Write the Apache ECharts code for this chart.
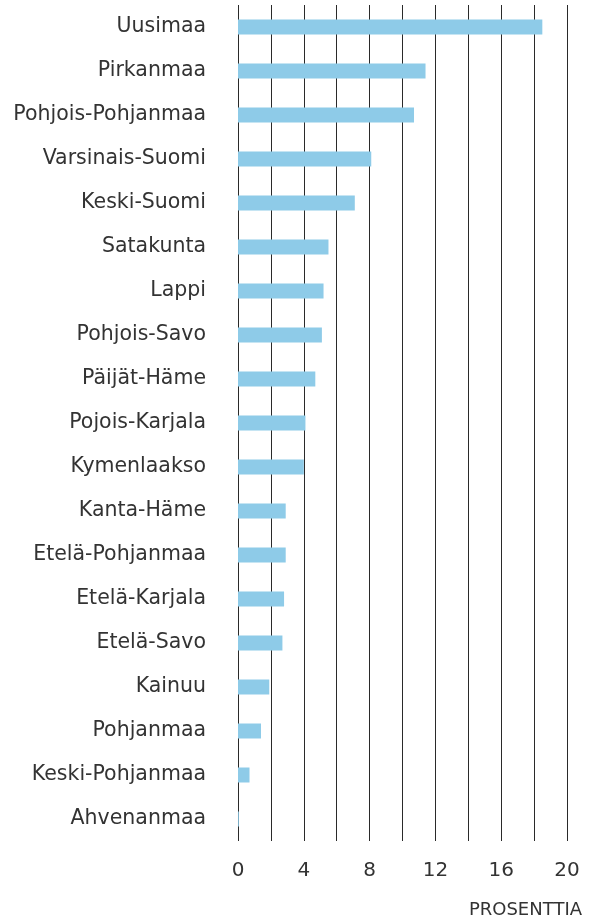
<!DOCTYPE html>
<html lang="fi" style="height: 100%">

<head>
  <meta charset="utf-8" />
</head>

<body style="height: 100%; margin: 0; background: #fff">
  <div id="container" style="width: 590px; height: 919px"></div>

  <script type="text/javascript" src="https://fastly.jsdelivr.net/npm/echarts@6/dist/echarts.min.js"></script>

  <script type="text/javascript">
    // maakunnat, ylhäältä alas
    var regions = [
      "Uusimaa", "Pirkanmaa", "Pohjois-Pohjanmaa", "Varsinais-Suomi", "Keski-Suomi",
      "Satakunta", "Lappi", "Pohjois-Savo", "Päijät-Häme", "Pojois-Karjala",
      "Kymenlaakso", "Kanta-Häme", "Etelä-Pohjanmaa", "Etelä-Karjala", "Etelä-Savo",
      "Kainuu", "Pohjanmaa", "Keski-Pohjanmaa", "Ahvenanmaa"
    ];
    var percent = [
      18.5, 11.4, 10.7, 8.1, 7.1,
      5.5, 5.2, 5.1, 4.7, 4.1,
      4.0, 2.9, 2.9, 2.8, 2.7,
      1.9, 1.4, 0.7, 0.05
    ];
    var tickLabels = [0, 4, 8, 12, 16, 20];

    var font = "DejaVu Sans";
    var myChart = echarts.init(document.getElementById("container"), null, {
      renderer: "canvas",
    });

    var option = {
      animation: false,
      title: {
        text: "PROSENTTIA",
        right: 8,
        bottom: 0,
        padding: 0,
        textStyle: {
          fontFamily: font,
          fontSize: 18,
          fontWeight: "normal",
          color: "#333",
        },
      },
      grid: {
        left: 238,
        right: 23,
        top: 5,
        bottom: 78,
      },
      xAxis: {
        type: "value",
        min: 0,
        max: 20,
        interval: 2,
        axisLine: { show: false },
        axisTick: { show: false },
        splitLine: {
          show: true,
          lineStyle: { color: "#2a2a2a", width: 1 },
        },
        axisLabel: {
          margin: 20,
          fontFamily: font,
          fontSize: 20,
          color: "#333",
          formatter: function (v) {
            return tickLabels.indexOf(v) >= 0 ? String(v) : "";
          },
        },
      },
      yAxis: {
        type: "category",
        inverse: true,
        data: regions,
        axisLine: { show: false },
        axisTick: { show: false },
        axisLabel: {
          margin: 32,
          fontFamily: font,
          fontSize: 20.5,
          color: "#333",
          padding: [3, 0, 0, 0],
        },
      },
      series: [
        {
          type: "bar",
          data: percent,
          barWidth: 15,
          itemStyle: { color: "#8ecbe8" },
        },
      ],
    };

    myChart.setOption(option);
  </script>
</body>

</html>
